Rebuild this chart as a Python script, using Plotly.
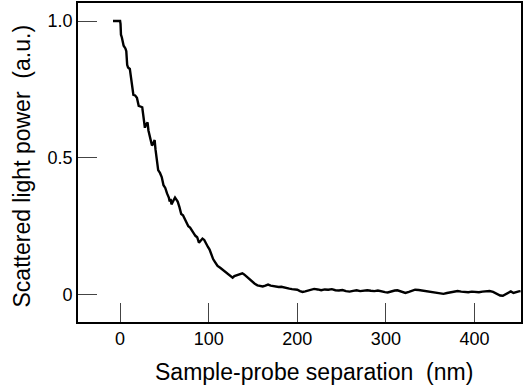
import plotly.graph_objects as go

separation_nm = [
    -8, 0, 0.5, 1, 2, 4, 6, 7, 8, 9, 11, 12, 14, 15, 17, 19, 21, 23, 25, 26, 28, 29, 31, 32, 34,
    36, 37, 39, 40, 42, 43, 45, 47, 49, 51, 53, 55, 56, 57, 58, 60, 62, 63, 65, 67, 69, 71, 73,
    75, 77, 79, 81, 83, 85, 87, 89, 91, 93, 95, 97, 99, 101, 103, 105, 107, 110, 113, 116, 119,
    121, 124, 127, 129, 132, 135, 138, 140, 143, 146, 149, 152, 155, 158, 161, 164, 167, 170,
    173, 176, 179, 182, 185, 188, 191, 194, 197, 200, 203, 206, 209, 212, 215, 219, 223, 227,
    231, 235, 239, 243, 247, 251, 255, 259, 263, 267, 271, 275, 279, 283, 287, 291, 295, 299,
    302, 306, 310, 313, 316, 319, 322, 326, 330, 333, 337, 341, 345, 349, 353, 357, 361, 365,
    369, 373, 377, 381, 385, 389, 393, 397, 401, 405, 409, 413, 417, 421, 425, 429, 432, 435,
    438, 441, 444, 447, 450, 452,
]
scattered_power = [
    1.0, 1.0, 0.99, 0.95, 0.94, 0.91, 0.90, 0.89, 0.84, 0.83, 0.825, 0.80, 0.75, 0.73, 0.728,
    0.72, 0.69, 0.688, 0.685, 0.66, 0.61, 0.62, 0.63, 0.60, 0.57, 0.545, 0.55, 0.565, 0.53, 0.49,
    0.455, 0.445, 0.43, 0.40, 0.39, 0.37, 0.355, 0.34, 0.35, 0.33, 0.345, 0.355, 0.35, 0.34, 0.32,
    0.295, 0.29, 0.275, 0.26, 0.25, 0.245, 0.232, 0.225, 0.215, 0.21, 0.19, 0.20, 0.205, 0.20,
    0.185, 0.175, 0.165, 0.145, 0.13, 0.12, 0.105, 0.098, 0.09, 0.082, 0.078, 0.07, 0.062, 0.068,
    0.072, 0.076, 0.078, 0.074, 0.065, 0.058, 0.046, 0.04, 0.034, 0.031, 0.030, 0.033, 0.037,
    0.033, 0.031, 0.030, 0.028, 0.029, 0.026, 0.024, 0.022, 0.02, 0.019, 0.018, 0.013, 0.010,
    0.012, 0.015, 0.018, 0.021, 0.019, 0.016, 0.019, 0.018, 0.020, 0.016, 0.015, 0.017, 0.013,
    0.011, 0.014, 0.016, 0.013, 0.015, 0.016, 0.014, 0.013, 0.015, 0.011, 0.009, 0.008, 0.012,
    0.015, 0.016, 0.012, 0.008, 0.006, 0.010, 0.016, 0.018, 0.017, 0.015, 0.013, 0.012, 0.010,
    0.008, 0.004, 0.003, 0.006, 0.009, 0.012, 0.013, 0.011, 0.010, 0.009, 0.011, 0.010, 0.009,
    0.011, 0.012, 0.013, 0.010, 0.003, -0.003, -0.004, 0.002, 0.009, 0.012, 0.006, 0.010, 0.012,
    0.013,
]

x_tick_vals = [0, 100, 200, 300, 400]
x_tick_text = ["0", "100", "200", "300", "400"]
y_tick_vals = [0, 0.5, 1.0]
y_tick_text = ["0", "0.5", "1.0"]
x_title = "Sample-probe separation&nbsp;&nbsp;(nm)"
y_title = "Scattered light power&nbsp;&nbsp;(a.u.)"

font_family = "Liberation Sans, Arial, Helvetica, sans-serif"

fig = go.Figure()
fig.add_trace(go.Scatter(
    x=separation_nm, y=scattered_power, mode="lines",
    line=dict(color="black", width=2.4), showlegend=False, hoverinfo="skip",
))

axis_common = dict(
    showline=True, linecolor="black", linewidth=1.6, mirror=True,
    ticks="inside", ticklen=19, tickwidth=1, tickcolor="#444",
    showgrid=False, zeroline=False, automargin=False,
    tickfont=dict(family=font_family, size=18, color="black"),
)

fig.update_layout(
    width=529, height=391,
    margin=dict(l=78, r=8, t=3, b=69),
    paper_bgcolor="white", plot_bgcolor="white",
    font=dict(family=font_family, color="black"),
    xaxis=dict(range=[-47.5, 452.5], tickvals=x_tick_vals, ticktext=x_tick_text, **axis_common),
    yaxis=dict(range=[-0.1, 1.066], tickvals=y_tick_vals, ticktext=y_tick_text, **axis_common),
    annotations=[
        dict(text=x_title, xref="paper", yref="paper", x=0.533, y=0, yshift=-50,
             xanchor="center", yanchor="middle", showarrow=False,
             font=dict(family=font_family, size=23, color="black")),
        dict(text=y_title, xref="paper", yref="paper", x=0, y=0.4875, xshift=-56,
             xanchor="center", yanchor="middle", textangle=-90, showarrow=False,
             font=dict(family=font_family, size=23, color="black")),
    ],
)

fig.write_html("out.html", config={"displayModeBar": False},
               post_script="document.body.style.margin='0';")
